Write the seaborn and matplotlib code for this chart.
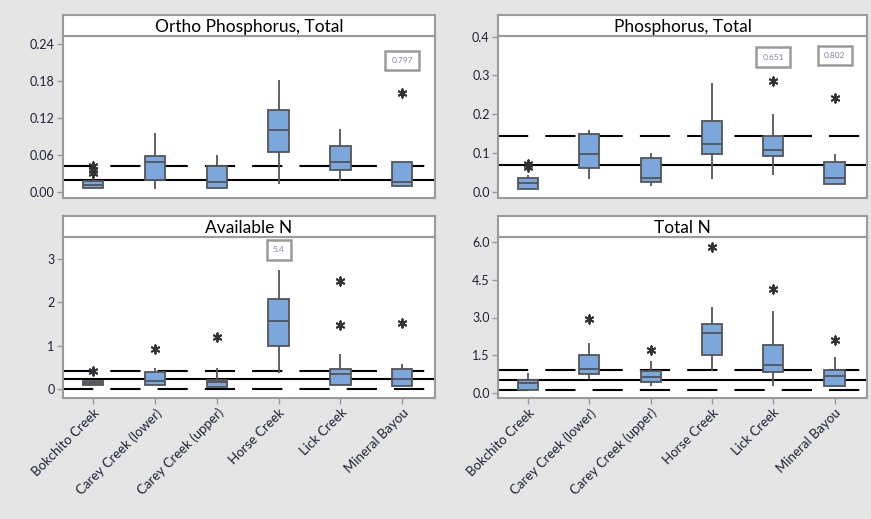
import numpy as np
import pandas as pd
import matplotlib
matplotlib.use("Agg")
import matplotlib.pyplot as plt
import seaborn as sns

sites = ["Bokchito Creek", "Carey Creek (lower)", "Carey Creek (upper)",
         "Horse Creek", "Lick Creek", "Mineral Bayou"]

# box summaries: whisker low, q1, median, q3, whisker high
op_lo = [0.006, 0.005, 0.006, 0.012, 0.017, 0.009]
op_q1 = [0.0065, 0.019, 0.0065, 0.064, 0.035, 0.009]
op_med = [0.011, 0.0485, 0.0156, 0.101, 0.0485, 0.0156]
op_q3 = [0.017, 0.0588, 0.0415, 0.133, 0.075, 0.0485]
op_hi = [0.025, 0.0955, 0.059, 0.182, 0.102, 0.0485]
op_out_site = ["Bokchito Creek", "Bokchito Creek", "Bokchito Creek", "Mineral Bayou"]
op_out_val = [0.030, 0.036, 0.042, 0.161]
op_ref_solid = [0.02]
op_ref_dash = [0.042]

tp_lo = [0.0086, 0.034, 0.0146, 0.034, 0.0445, 0.0206]
tp_q1 = [0.0086, 0.0617, 0.0248, 0.0976, 0.0916, 0.0206]
tp_med = [0.023, 0.0976, 0.036, 0.123, 0.107, 0.036]
tp_q3 = [0.036, 0.149, 0.0874, 0.184, 0.143, 0.077]
tp_hi = [0.045, 0.16, 0.1, 0.28, 0.201, 0.0985]
tp_out_site = ["Bokchito Creek", "Bokchito Creek", "Lick Creek", "Mineral Bayou"]
tp_out_val = [0.065, 0.072, 0.286, 0.2415]
tp_ref_solid = [0.0685]
tp_ref_dash = [0.1447]

an_lo = [0.077, 0.077, 0.031, 0.36, 0.092, 0.054]
an_q1 = [0.077, 0.077, 0.031, 1.0, 0.092, 0.054]
an_med = [0.13, 0.169, 0.146, 1.577, 0.346, 0.23]
an_q3 = [0.169, 0.377, 0.208, 2.077, 0.46, 0.46]
an_hi = [0.169, 0.477, 0.477, 2.746, 0.8, 0.57]
an_out_site = ["Bokchito Creek", "Carey Creek (lower)", "Carey Creek (upper)",
               "Lick Creek", "Lick Creek", "Mineral Bayou"]
an_out_val = [0.40, 0.92, 1.20, 2.49, 1.477, 1.515]
an_ref_solid = [0.23]
an_ref_dash = [0.415, 0.0]

tn_lo = [0.12, 0.56, 0.267, 0.867, 0.267, 0.267]
tn_q1 = [0.12, 0.76, 0.427, 1.493, 0.827, 0.267]
tn_med = [0.387, 0.96, 0.653, 2.387, 1.093, 0.693]
tn_q3 = [0.533, 1.493, 0.893, 2.76, 1.893, 0.92]
tn_hi = [0.787, 2.0, 1.267, 3.43, 3.27, 1.427]
tn_out_site = ["Carey Creek (lower)", "Carey Creek (upper)", "Horse Creek",
               "Lick Creek", "Mineral Bayou"]
tn_out_val = [2.93, 1.72, 5.8, 4.12, 2.09]
tn_ref_solid = [0.52]
tn_ref_dash = [0.92, 0.133]

panels = [
    ("Ortho Phosphorus, Total", (op_lo, op_q1, op_med, op_q3, op_hi),
     op_out_site, op_out_val, op_ref_solid, op_ref_dash,
     (-0.01, 0.253), [0, 0.06, 0.12, 0.18, 0.24], "{:.2f}",
     [("0.797", "Mineral Bayou", 0.85)]),
    ("Phosphorus, Total", (tp_lo, tp_q1, tp_med, tp_q3, tp_hi),
     tp_out_site, tp_out_val, tp_ref_solid, tp_ref_dash,
     (-0.0154, 0.4017), [0, 0.1, 0.2, 0.3, 0.4], "{:.1f}",
     [("0.651", "Lick Creek", 0.87), ("0.802", "Mineral Bayou", 0.88)]),
    ("Available N", (an_lo, an_q1, an_med, an_q3, an_hi),
     an_out_site, an_out_val, an_ref_solid, an_ref_dash,
     (-0.215, 3.515), [0, 1, 2, 3], "{:.0f}",
     [("5.4", "Horse Creek", 0.92)]),
    ("Total N", (tn_lo, tn_q1, tn_med, tn_q3, tn_hi),
     tn_out_site, tn_out_val, tn_ref_solid, tn_ref_dash,
     (-0.2, 6.2), [0, 1.5, 3.0, 4.5, 6.0], "{:.1f}",
     []),
]

sns.set_style("white")
plt.rcParams["font.family"] = ["Lato", "DejaVu Sans"]

bg = "#e5e5e5"
box_col = "#7ba7dc"
edge_col = "#555555"
frame_col = "#9a9a9a"
txt_col = "#1c2238"

fig = plt.figure(figsize=(8.71, 5.19), dpi=100, facecolor=bg)
W, H = 871, 519
rects = [(63, 36, 435, 198), (498, 36, 867, 198),
         (63, 237, 435, 398), (498, 237, 867, 398)]
strip_px = 21

for i, (title, stats, osite, oval, rsolid, rdash, ylim, yticks, yfmt, notes) in enumerate(panels):
    x0, y0, x1, y1 = rects[i]
    ax = fig.add_axes([x0 / W, 1 - y1 / H, (x1 - x0) / W, (y1 - y0) / H])
    ax.set_facecolor("white")

    rows = []
    for j, s in enumerate(sites):
        for arr in stats:
            rows.append((s, arr[j]))
    df = pd.DataFrame(rows, columns=["site", "value"])
    odf = pd.DataFrame({"site": osite, "value": oval})

    for r in rsolid:
        ax.axhline(r, color="black", lw=1.5, zorder=1)
    for r in rdash:
        ax.axhline(r, color="black", lw=1.5, zorder=1, dashes=(14.5, 8.2))

    sns.boxplot(data=df, x="site", y="value", order=sites, whis=(0, 100),
                width=0.33, color=box_col, saturation=1, linecolor=edge_col,
                linewidth=1.3, showfliers=False, showcaps=False, ax=ax,
                zorder=3)
    sns.stripplot(data=odf, x="site", y="value", order=sites, jitter=False,
                  marker=(6, 2, 0), s=6, color="#333333", linewidth=1.4,
                  ax=ax, zorder=4)

    for label, site, yfrac in notes:
        ax.text(sites.index(site), yfrac, label, transform=ax.get_xaxis_transform(),
                ha="center", va="center", fontsize=6, color="#8a7fa8",
                bbox=dict(boxstyle="square,pad=0.75", fc="white",
                          ec=frame_col, lw=1.8))

    ax.set_xlim(-0.49, 5.53)
    ax.set_ylim(*ylim)
    ax.set_yticks(yticks)
    ax.set_yticklabels([yfmt.format(t) for t in yticks])
    ax.set_xlabel("")
    ax.set_ylabel("")
    ax.tick_params(axis="y", length=4, width=1, color=frame_col,
                   labelsize=9, labelcolor=txt_col, pad=2, left=True)
    if i < 2:
        ax.set_xticks([])
    else:
        ax.tick_params(axis="x", length=4, width=1, color=frame_col,
                       labelsize=9.5, labelcolor=txt_col, pad=2, bottom=True)
        for lab in ax.get_xticklabels():
            lab.set_rotation(45)
            lab.set_ha("right")
            lab.set_rotation_mode("anchor")
    for sp in ax.spines.values():
        sp.set_color(frame_col)
        sp.set_linewidth(1.5)

    # title strip
    st = ax.inset_axes([0, 1, 1, strip_px / (y1 - y0)])
    st.set_facecolor("white")
    st.set_xticks([])
    st.set_yticks([])
    for sp in st.spines.values():
        sp.set_color(frame_col)
        sp.set_linewidth(1.5)
    st.text(0.5, 0.45, title, ha="center", va="center", fontsize=12.5,
            color="black", transform=st.transAxes)

fig.savefig("out.png", dpi=100, facecolor=bg)
